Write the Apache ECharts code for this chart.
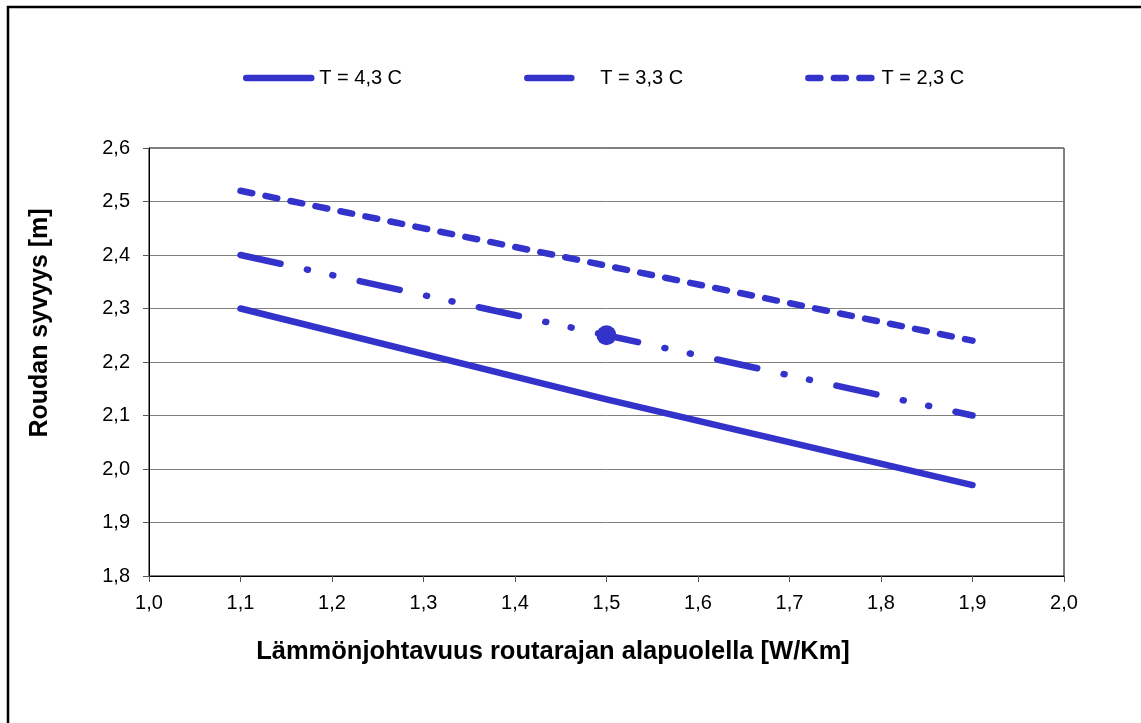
<!DOCTYPE html>
<html>
<head>
<meta charset="utf-8">
<script src="https://cdn.jsdelivr.net/npm/echarts@6/dist/echarts.min.js"></script>
<style>
html,body{margin:0;padding:0;background:#fff;}
#chart{width:1141px;height:723px;}
</style>
</head>
<body>
<div id="chart"></div>
<script>
// ---- data ----
const conductivity = [1.1, 1.5, 1.9];           // W/Km
const depthT43 = [2.30, 2.13, 1.97];            // T = 4,3 C
const depthT33 = [2.40, 2.25, 2.10];            // T = 3,3 C
const depthT23 = [2.52, 2.38, 2.24];            // T = 2,3 C
const seriesNames = ['T = 4,3 C', 'T = 3,3 C', 'T = 2,3 C'];
const markerIndex = 1;                           // highlighted point on T = 3,3 C
const xTitle = 'Lämmönjohtavuus routarajan alapuolella [W/Km]';
const yTitle = 'Roudan syvyys [m]';

const FONT = "'Liberation Sans', Arial, sans-serif";
const BLUE = '#3333CC';
const LW = 6.5;
const pairs = arr => conductivity.map((x, i) => [x, arr[i]]);
const fmt = v => (Math.round(v * 10) / 10).toFixed(1).replace('.', ',');

const chart = echarts.init(document.getElementById('chart'), null, {renderer: 'canvas'});
chart.setOption({
  animation: false,
  backgroundColor: '#fff',
  grid: {left: 149, right: 77, top: 148, bottom: 147, show: true, borderColor: '#000', borderWidth: 1},
  legend: {
    left: 243, top: 68, padding: 0, itemWidth: 65, itemHeight: 22, itemGap: 122,
    itemStyle: {opacity: 0},
    lineStyle: {width: LW, cap: 'round'},
    textStyle: {fontFamily: FONT, fontSize: 20, color: '#000', padding: [0, 0, 0, 3]},
    data: [
      {name: seriesNames[0]},
      {name: seriesNames[1], lineStyle: {type: [44, 200], cap: 'round', width: LW, color: BLUE}},
      {name: seriesNames[2]}
    ]
  },
  xAxis: {
    type: 'value', min: 1.0, max: 2.0, interval: 0.1,
    axisLine: {lineStyle: {color: '#000', width: 1}},
    axisTick: {show: true, inside: false, length: 6, lineStyle: {color: '#555'}},
    axisLabel: {formatter: fmt, fontFamily: FONT, fontSize: 20, color: '#000', margin: 17},
    splitLine: {show: false}
  },
  yAxis: {
    type: 'value', min: 1.8, max: 2.6, interval: 0.1,
    axisLine: {show: true, lineStyle: {color: '#000', width: 1}},
    axisTick: {show: true, inside: false, length: 6, lineStyle: {color: '#555'}},
    axisLabel: {formatter: fmt, fontFamily: FONT, fontSize: 20, color: '#000', margin: 19},
    splitLine: {show: true, lineStyle: {color: '#808080', width: 1}}
  },
  series: [
    {
      name: seriesNames[0], type: 'line', data: pairs(depthT43), symbol: 'none',
      lineStyle: {color: BLUE, width: LW, cap: 'round', join: 'round'},
      itemStyle: {color: BLUE}
    },
    {
      name: seriesNames[1], type: 'line', data: pairs(depthT33), symbol: 'none',
      lineStyle: {color: BLUE, width: LW, cap: 'round', join: 'round', type: [41, 27, 1, 25, 1, 27]},
      itemStyle: {color: BLUE}
    },
    {
      name: seriesNames[2], type: 'line', data: pairs(depthT23), symbol: 'none',
      lineStyle: {color: BLUE, width: LW, cap: 'round', join: 'round', type: [12, 13.5]},
      itemStyle: {color: BLUE}
    },
    {
      name: 'marker', type: 'scatter', symbol: 'circle', symbolSize: 20,
      data: [[conductivity[markerIndex], depthT33[markerIndex]]],
      itemStyle: {color: BLUE, opacity: 1}, z: 5, silent: true
    }
  ],
  graphic: [
    {type: 'rect', shape: {x: 8, y: 7, width: 1300, height: 900}, style: {fill: 'none', stroke: '#000', lineWidth: 2.5}, silent: true, z: 100},
    {type: 'text', x: 553, y: 652, style: {text: xTitle, font: 'bold 25.5px ' + FONT, fill: '#000', textAlign: 'center', textVerticalAlign: 'middle'}},
    {type: 'text', x: 40, y: 323, rotation: Math.PI / 2, style: {text: yTitle, font: 'bold 25px ' + FONT, fill: '#000', textAlign: 'center', textVerticalAlign: 'middle'}}
  ]
});
</script>
</body>
</html>
